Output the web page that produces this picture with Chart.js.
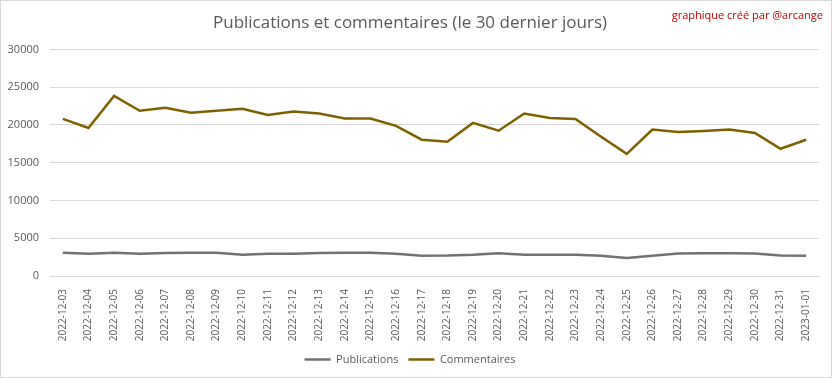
<!DOCTYPE html>
<html>
<head>
<meta charset="utf-8">
<script src="https://cdn.jsdelivr.net/npm/chart.js@4/dist/chart.umd.min.js"></script>
<style>
  html, body { margin:0; padding:0; background:#fff; }
  #wrap { position:relative; width:832px; height:378px; box-sizing:border-box; border:1px solid #d9d9d9; }
</style>
</head>
<body>
<div id="wrap"><canvas id="chart" width="830" height="376"></canvas></div>
<script>
// ------------------------------------------------------------
// Data (30 derniers jours)
// ------------------------------------------------------------
const days = [
  "2022-12-03","2022-12-04","2022-12-05","2022-12-06","2022-12-07","2022-12-08",
  "2022-12-09","2022-12-10","2022-12-11","2022-12-12","2022-12-13","2022-12-14",
  "2022-12-15","2022-12-16","2022-12-17","2022-12-18","2022-12-19","2022-12-20",
  "2022-12-21","2022-12-22","2022-12-23","2022-12-24","2022-12-25","2022-12-26",
  "2022-12-27","2022-12-28","2022-12-29","2022-12-30","2022-12-31","2023-01-01"
];
const publications = [
  3070, 2930, 3070, 2930, 3050, 3080, 3080, 2800, 2930, 2930,
  3050, 3080, 3080, 2950, 2680, 2700, 2800, 3000, 2800, 2800,
  2800, 2680, 2400, 2680, 2980, 3000, 3000, 2980, 2700, 2680
];
const commentaires = [
  20800, 19600, 23850, 21870, 22270, 21600, 21870, 22130, 21330, 21780,
  21510, 20840, 20840, 19870, 18050, 17780, 20270, 19240, 21510, 20930,
  20800, 18440, 16180, 19380, 19070, 19200, 19380, 18930, 16840, 18040
];
const yTicks = [0, 5000, 10000, 15000, 20000, 25000, 30000];

const FONT = "'Open Sans', 'Liberation Sans', sans-serif";
const GREY = '#595959';

// credit line, top right
const creditPlugin = {
  id: 'credit',
  afterDraw(chart) {
    const ctx = chart.ctx;
    ctx.save();
    ctx.font = "11px " + FONT;
    ctx.fillStyle = '#c00000';
    ctx.textAlign = 'right';
    ctx.textBaseline = 'middle';
    ctx.fillText('graphique créé par @arcange', 822, 15);
    ctx.restore();
  }
};

new Chart(document.getElementById('chart'), {
  type: 'line',
  data: {
    labels: days,
    datasets: [
      { label:'Publications', data: publications, borderColor:'#767171', backgroundColor:'#767171', borderWidth:2.5, pointRadius:0, tension:0 },
      { label:'Commentaires', data: commentaires, borderColor:'#7f6000', backgroundColor:'#7f6000', borderWidth:2.5, pointRadius:0, tension:0 },
    ]
  },
  options: {
    responsive:false,
    animation:false,
    layout:{ padding:{ left:0, right:12, top:0, bottom:2 } },
    plugins:{
      title:{ display:true, text:'Publications et commentaires (le 30 dernier jours)', color:GREY,
              font:{ family:FONT, size:17, weight:'normal' }, padding:{ top:12, bottom:16 } },
      legend:{ position:'bottom', labels:{ color:GREY, font:{ family:FONT, size:11 }, usePointStyle:true, pointStyle:'line', pointStyleWidth:26, padding:10 } },
      tooltip:{ enabled:false }
    },
    scales:{
      x:{
        offset:true,
        grid:{ display:false },
        border:{ color:'#d9d9d9' },
        ticks:{ color:GREY, font:{ family:FONT, size:10 }, minRotation:90, maxRotation:90, autoSkip:false, padding:5 },
        afterFit(axis) { axis.height = 68; }
      },
      y:{
        min:0, max:30000,
        afterBuildTicks(axis) { axis.ticks = yTicks.map(v => ({ value:v })); },
        grid:{ color:'#d9d9d9', drawTicks:false },
        border:{ display:false },
        ticks:{ color:GREY, font:{ family:FONT, size:11 }, padding:11, callback: v => String(v) },
        afterFit(axis) { axis.width = 49; }
      }
    }
  },
  plugins:[creditPlugin]
});
</script>
</body>
</html>
